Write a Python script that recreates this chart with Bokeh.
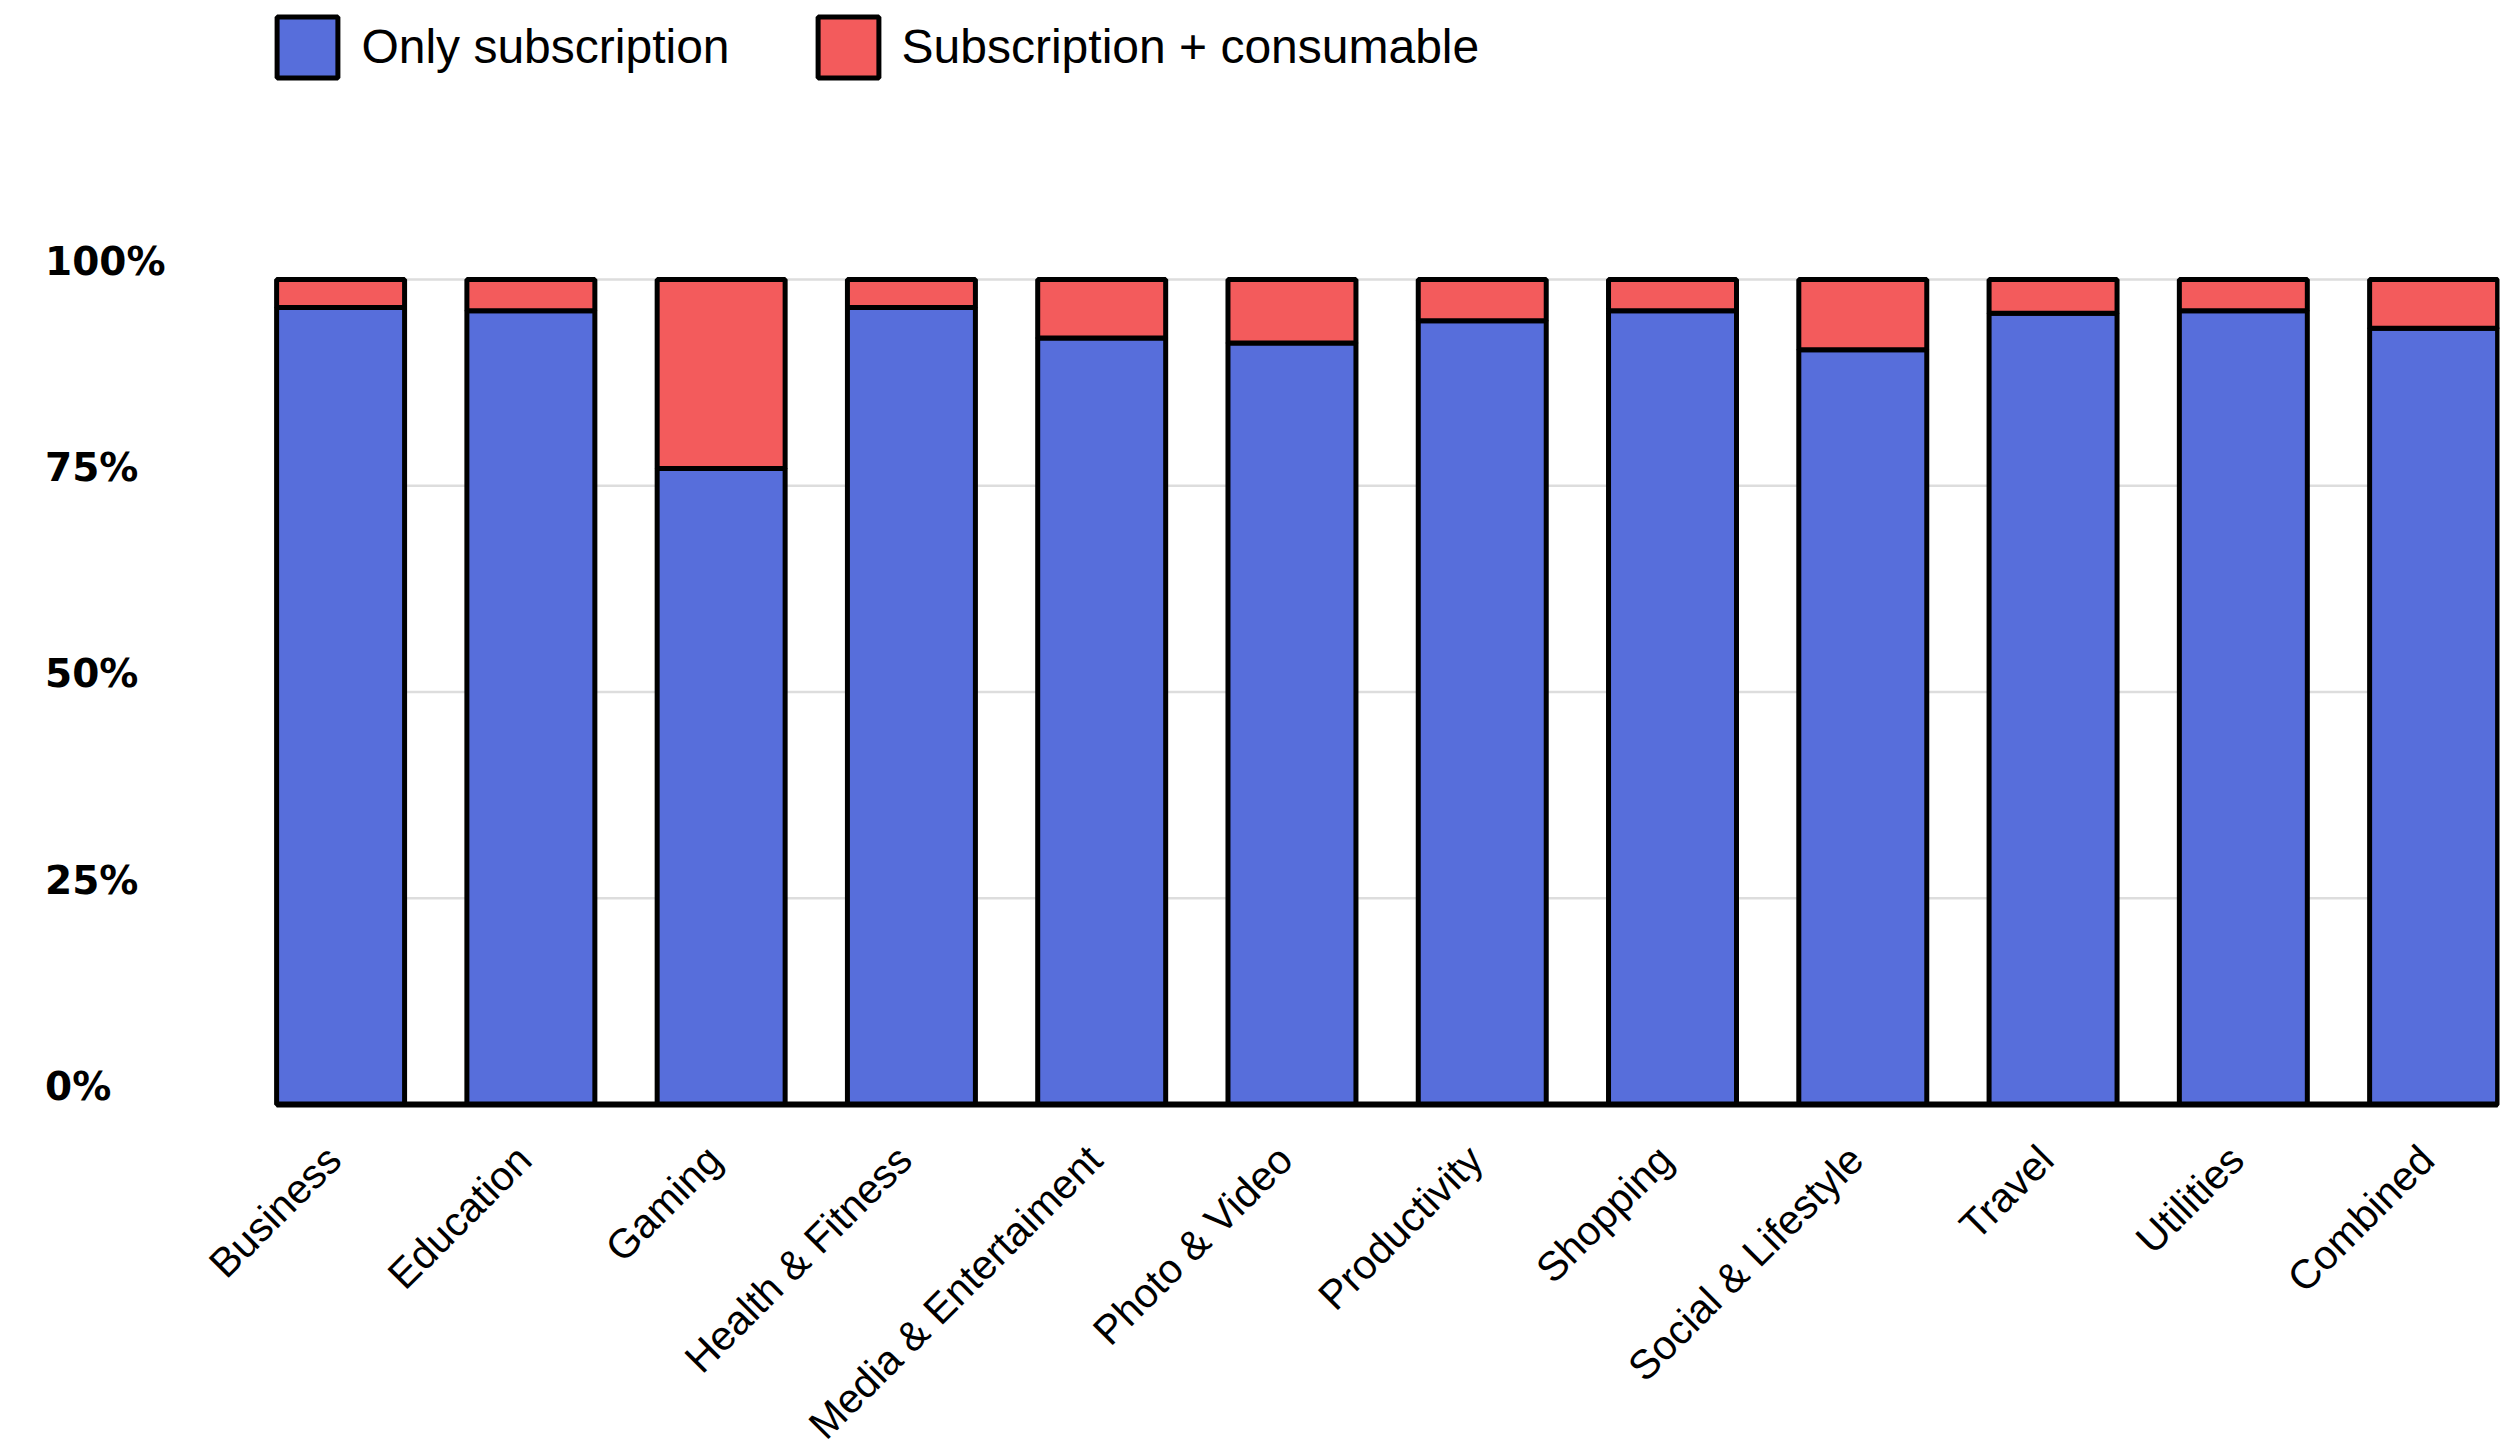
import math
from bokeh.plotting import figure
from bokeh.models import (ColumnDataSource, Range1d, FixedTicker, Legend, LegendItem,
                          LinearAxis)
from bokeh.core.properties import value
from bokeh.embed import file_html
from bokeh.resources import INLINE

categories = ["Business", "Education", "Gaming", "Health & Fitness", "Media & Entertaiment",
              "Photo & Video", "Productivity", "Shopping", "Social & Lifestyle", "Travel",
              "Utilities", "Combined"]
only_subscription = [96.6, 96.2, 77.1, 96.6, 92.9, 92.3, 95.0, 96.2, 91.5, 95.9, 96.2, 94.1]
subscription_consumable = [3.4, 3.8, 22.9, 3.4, 7.1, 7.7, 5.0, 3.8, 8.5, 4.1, 3.8, 5.9]
series_names = ["Only subscription", "Subscription + consumable"]
ytick_values = [0, 25, 50, 75, 100]
ytick_labels = ["0%", "25%", "50%", "75%", "100%"]
grid_values = [25, 50, 75, 100]

BLUE = "#576EDB"
RED = "#F35B5C"
BAR_W = 0.6726
LEFT_PAD = 0.4                      # room left of the first bar for its slanted label
Y_START, Y_END = -41.7, 133.82      # frame spans the full canvas height
LABEL_SHIFT = 2.2                   # tick labels sit just above their gridline
FIG_SPACE = "\u2007"

xs = list(range(len(categories)))
x_lo = xs[0] - BAR_W / 2
x_hi = xs[-1] + BAR_W / 2
source = ColumnDataSource(dict(x=xs, cat=categories, only=only_subscription,
                               cons=subscription_consumable))

p = figure(width=2515, height=1448, output_backend="svg", toolbar_location=None,
           x_range=Range1d(x_lo - LEFT_PAD, x_hi + 0.01),
           y_range=Range1d(Y_START, Y_END),
           x_axis_location=None, y_axis_location=None,
           min_border_left=200, min_border_right=16, min_border_top=0, min_border_bottom=0)
for g in list(p.grid):
    g.visible = False
p.outline_line_color = None
p.background_fill_color = "white"
p.border_fill_color = "white"

# horizontal gridlines spanning the bars only
grid_src = ColumnDataSource(dict(y=grid_values))
p.segment(x0=x_lo, x1=x_hi, y0="y", y1="y", source=grid_src,
          line_color="#dddddd", line_width=2.5, level="underlay")

renderers = p.vbar_stack(["only", "cons"], x="x", width=BAR_W, source=source,
                         fill_color=[BLUE, RED], line_color="black", line_width=5)

# baseline (x axis line)
p.segment(x0=[x_lo], x1=[x_hi], y0=[0], y1=[0], line_color="black", line_width=6)

# category labels under the baseline
p.text(x="x", y=0, text="cat", source=source, angle=math.pi / 4,
       text_align="right", text_baseline="top", x_offset=-23, y_offset=32,
       text_font=value("Liberation Sans"), text_font_size="41px", text_color="black")

# y axis with percentage labels, left aligned
width_chars = max(len(t) for t in ytick_labels)
p.extra_y_ranges = {"labels": Range1d(Y_START - LABEL_SHIFT, Y_END - LABEL_SHIFT)}
yax = LinearAxis(y_range_name="labels", ticker=FixedTicker(ticks=ytick_values),
                 major_label_overrides={v: t + FIG_SPACE * (width_chars - len(t))
                                        for v, t in zip(ytick_values, ytick_labels)},
                 axis_line_color=None, major_tick_line_color=None, minor_tick_line_color=None,
                 major_label_standoff=29, major_label_text_font="DejaVu Sans",
                 major_label_text_font_style="bold", major_label_text_font_size="39px",
                 major_label_text_color="black")
p.add_layout(yax, "left")

legend = Legend(items=[LegendItem(label=series_names[0], renderers=[renderers[0]]),
                       LegendItem(label=series_names[1], renderers=[renderers[1]])],
                orientation="horizontal", location=(69.4, 1363.4),
                glyph_width=76, glyph_height=76, label_height=76,
                label_standoff=16, spacing=80, padding=0, margin=0,
                label_text_font="Liberation Sans", label_text_font_size="48px",
                label_text_color="black", border_line_color=None,
                background_fill_alpha=0)
p.add_layout(legend, "center")

open("out.html", "w").write(file_html(p, INLINE))
